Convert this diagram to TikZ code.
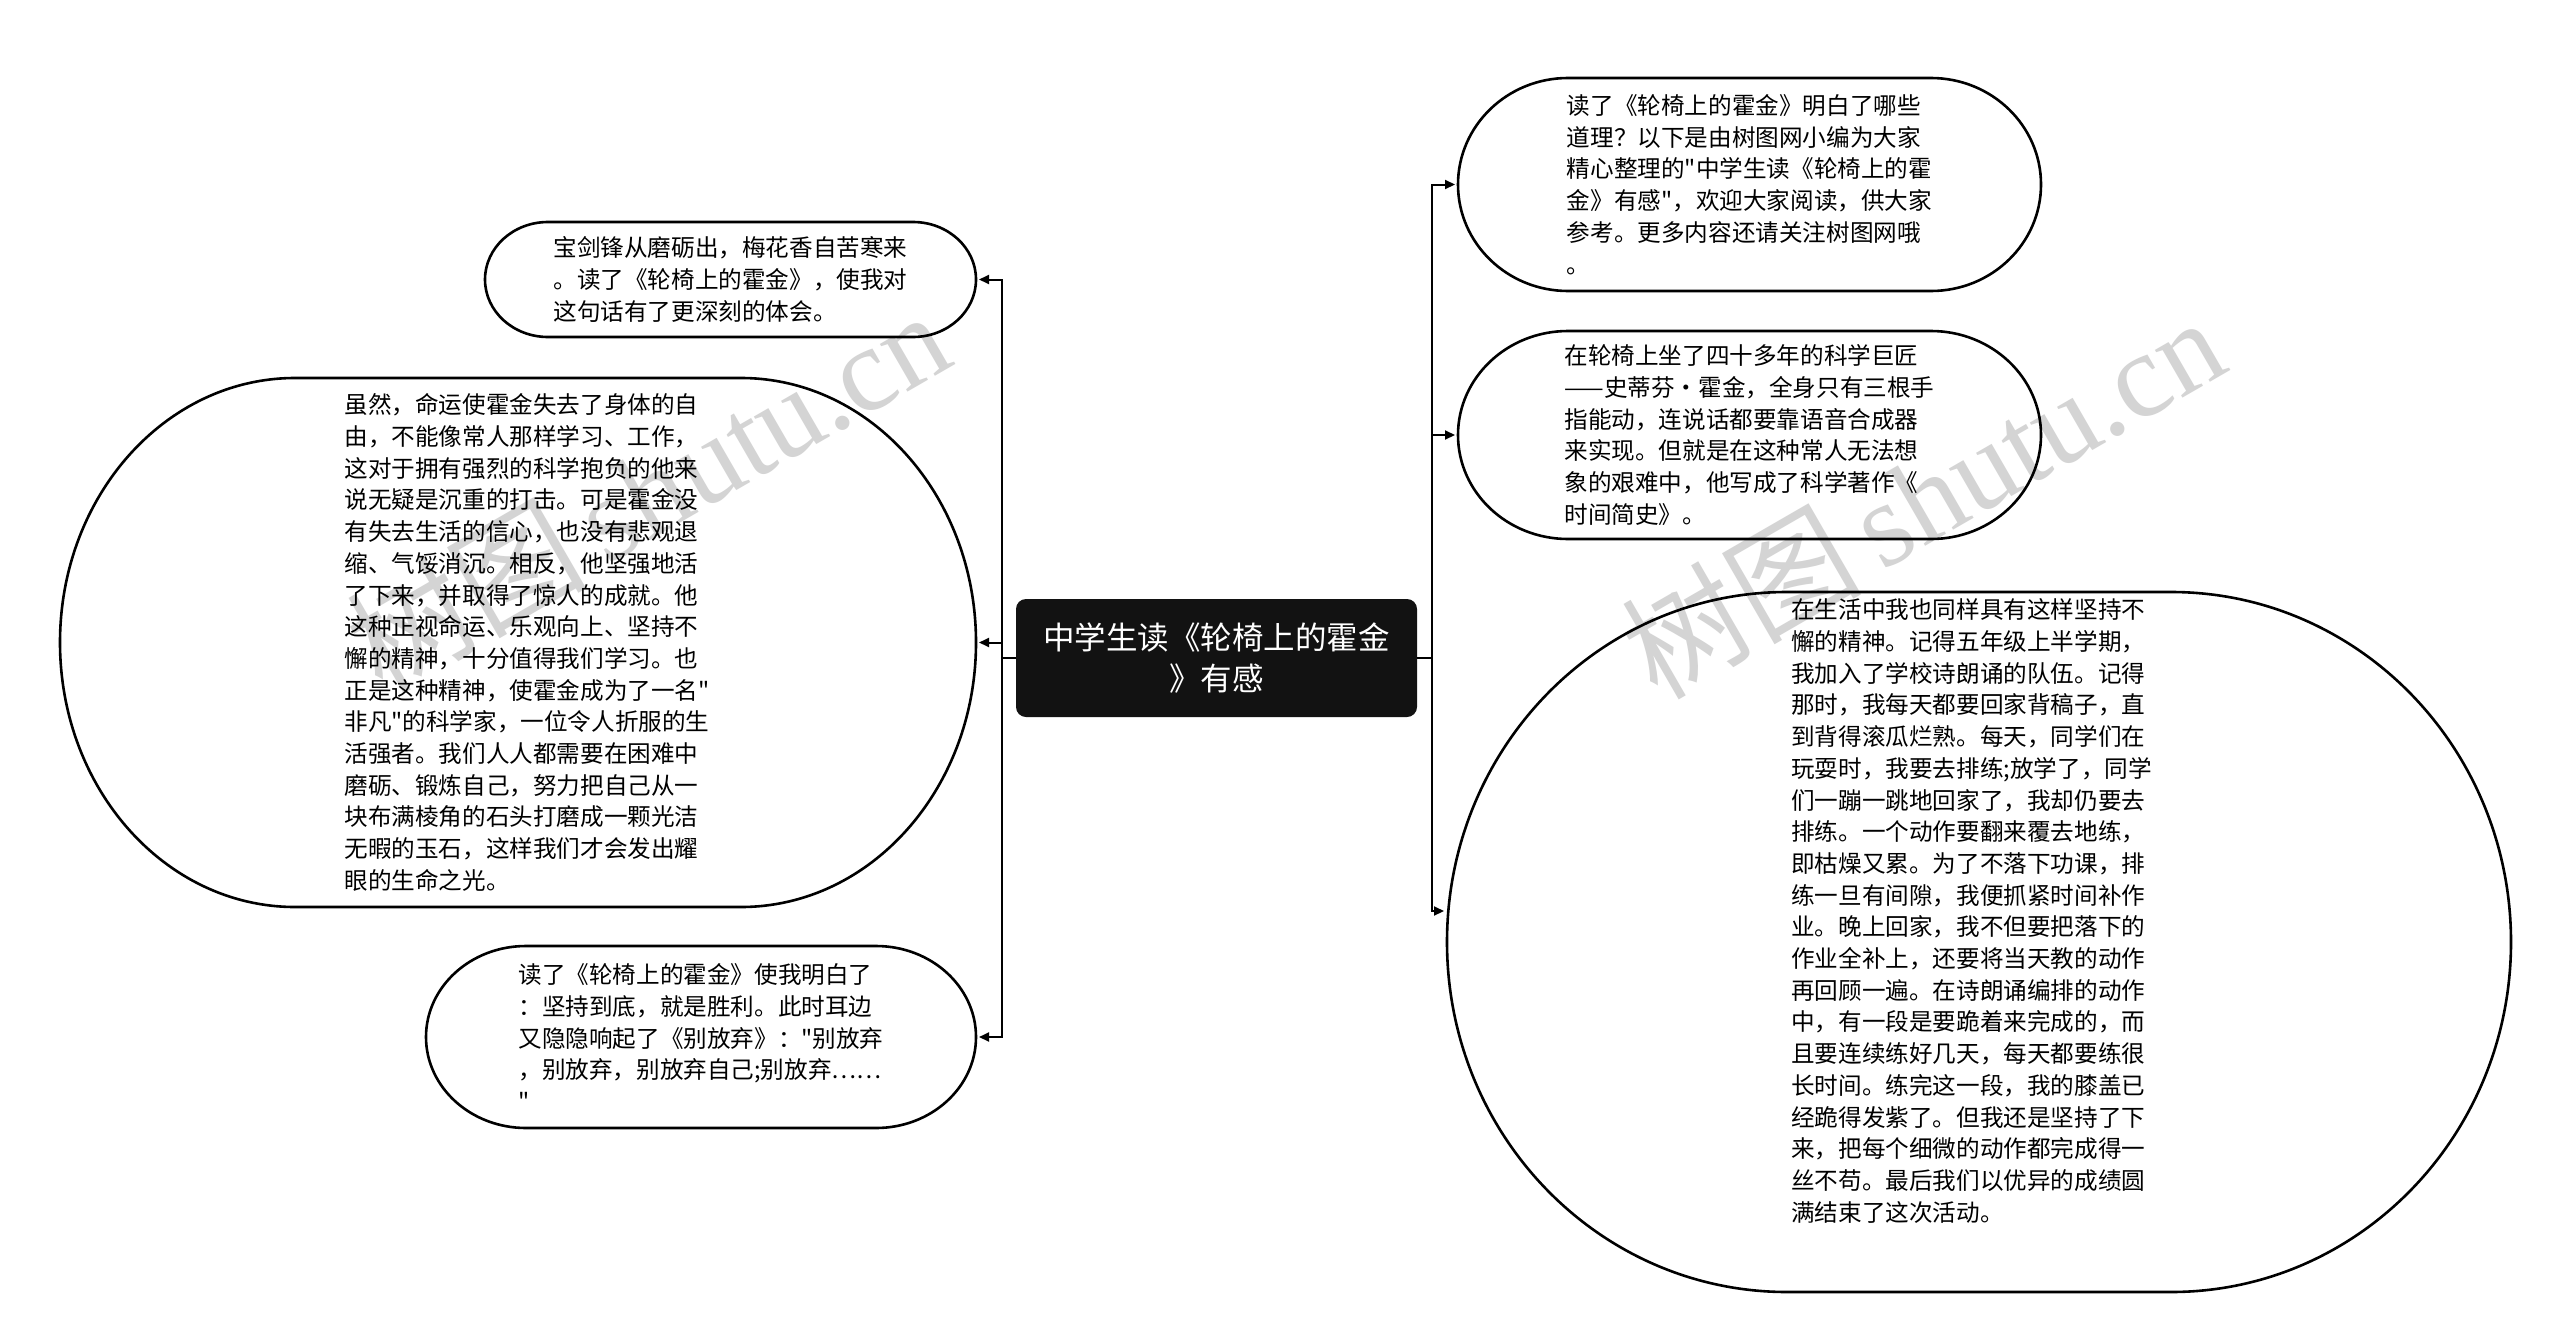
\documentclass[tikz,border=0pt]{standalone}
\usepackage{fontspec}
\newfontfamily\cjk{Noto Sans CJK SC}
\newfontfamily\wmlatin{Liberation Serif}
\usetikzlibrary{arrows.meta}
\tikzset{
  txt/.style={font=\cjk\fontsize{23.6pt}{31.7pt}\selectfont, align=left, inner sep=0pt, outer sep=0pt, draw=none, text=black},
  frame/.style={draw=none, inner sep=0pt, outer sep=0pt},
  border/.style={line width=2.6pt, draw=black},
  conn/.style={line width=2pt, draw=black},
  arr/.style={conn, -{Triangle[length=10pt,width=9pt]}, shorten >=3pt},
  topic/.style={fill=black!93, rounded corners=10pt, text=white, font=\cjk\fontsize{31.5pt}{41pt}\selectfont, align=center, inner sep=0pt, outer sep=0pt, minimum width=401pt, minimum height=118pt},
  wm/.style={text=black!17, rotate=30, inner sep=0pt}
}
% outline with elliptical corners: #1 node, #2 x radius, #3 y radius
\newcommand\pillout[3]{%
  \draw[border] ([xshift=#2]#1.north west) -- ([xshift=-#2]#1.north east)
    arc[start angle=90, end angle=0, x radius=#2, y radius=#3]
    -- ([yshift=#3]#1.south east)
    arc[start angle=0, end angle=-90, x radius=#2, y radius=#3]
    -- ([xshift=#2]#1.south west)
    arc[start angle=270, end angle=180, x radius=#2, y radius=#3]
    -- ([yshift=-#3]#1.north west)
    arc[start angle=180, end angle=90, x radius=#2, y radius=#3] -- cycle;}
\begin{document}
\begin{tikzpicture}[x=1pt, y=-1pt]
\useasboundingbox[fill=white] (0,0) rectangle (2560,1317);

% watermarks
\node[wm] (wma) at (647,490) {\cjk\fontsize{120pt}{120pt}\selectfont 树图\,{\wmlatin shutu.cn}};
\node[wm] (wmb) at (1922,496) {\cjk\fontsize{120pt}{120pt}\selectfont 树图\,{\wmlatin shutu.cn}};

% central topic
\node[topic] (c) at (1216.5,658) {中学生读《轮椅上的霍金\\》有感};

% left nodes
\node[txt, minimum width=491pt, minimum height=115pt] (l1) at (730.5,279.5)
 {宝剑锋从磨砺出，梅花香自苦寒来\\。读了《轮椅上的霍金》，使我对\\这句话有了更深刻的体会。};
\node[txt] (l2) at (527,642.5)
 {虽然，命运使霍金失去了身体的自\\由，不能像常人那样学习、工作，\\这对于拥有强烈的科学抱负的他来\\说无疑是沉重的打击。可是霍金没\\有失去生活的信心，也没有悲观退\\缩、气馁消沉。相反，他坚强地活\\了下来，并取得了惊人的成就。他\\这种正视命运、乐观向上、坚持不\\懈的精神，十分值得我们学习。也\\正是这种精神，使霍金成为了一名"\\非凡"的科学家，一位令人折服的生\\活强者。我们人人都需要在困难中\\磨砺、锻炼自己，努力把自己从一\\块布满棱角的石头打磨成一颗光洁\\无暇的玉石，这样我们才会发出耀\\眼的生命之光。};
\node[frame, minimum width=916pt, minimum height=529pt] (l2box) at (518,642.5) {};
\node[txt, minimum width=550pt, minimum height=182pt] (l3) at (701,1037)
 {读了《轮椅上的霍金》使我明白了\\：坚持到底，就是胜利。此时耳边\\又隐隐响起了《别放弃》："别放弃\\，别放弃，别放弃自己;别放弃……\\"};

% right nodes
\node[txt, minimum width=583pt, minimum height=213pt] (r1) at (1749.5,184.5)
 {读了《轮椅上的霍金》明白了哪些\\道理？以下是由树图网小编为大家\\精心整理的"中学生读《轮椅上的霍\\金》有感"，欢迎大家阅读，供大家\\参考。更多内容还请关注树图网哦\\。};
\node[txt, minimum width=583pt, minimum height=208pt] (r2) at (1749.5,435)
 {在轮椅上坐了四十多年的科学巨匠\\——史蒂芬·霍金，全身只有三根手\\指能动，连说话都要靠语音合成器\\来实现。但就是在这种常人无法想\\象的艰难中，他写成了科学著作《\\时间简史》。};
\node[txt] (r3) at (1971.5,911)
 {在生活中我也同样具有这样坚持不\\懈的精神。记得五年级上半学期，\\我加入了学校诗朗诵的队伍。记得\\那时，我每天都要回家背稿子，直\\到背得滚瓜烂熟。每天，同学们在\\玩耍时，我要去排练;放学了，同学\\们一蹦一跳地回家了，我却仍要去\\排练。一个动作要翻来覆去地练，\\即枯燥又累。为了不落下功课，排\\练一旦有间隙，我便抓紧时间补作\\业。晚上回家，我不但要把落下的\\作业全补上，还要将当天教的动作\\再回顾一遍。在诗朗诵编排的动作\\中，有一段是要跪着来完成的，而\\且要连续练好几天，每天都要练很\\长时间。练完这一段，我的膝盖已\\经跪得发紫了。但我还是坚持了下\\来，把每个细微的动作都完成得一\\丝不苟。最后我们以优异的成绩圆\\满结束了这次活动。};
\node[frame, minimum width=1064pt, minimum height=700pt] (r3box) at (1979,942) {};

% outlines
\pillout{l1}{63pt}{57.5pt}
\pillout{l2box}{235pt}{264.5pt}
\pillout{l3}{100pt}{91pt}
\pillout{r1}{110pt}{106.5pt}
\pillout{r2}{110pt}{104pt}
\pillout{r3box}{340pt}{350pt}

% connectors
\coordinate (lj) at (1002,658);
\coordinate (rj) at (1432,658);
\draw[conn] (c.west) -- (lj);
\draw[conn] (c.east) -- (rj);
\draw[arr] (lj) |- (l1.east);
\draw[arr] (lj) |- (l2box.east);
\draw[arr] (lj) |- (l3.east);
\draw[arr] (rj) |- (r1.west);
\draw[arr] (rj) |- (r2.west);
\draw[arr] (rj) |- (r3box.west |- r3.center);
\end{tikzpicture}
\end{document}
